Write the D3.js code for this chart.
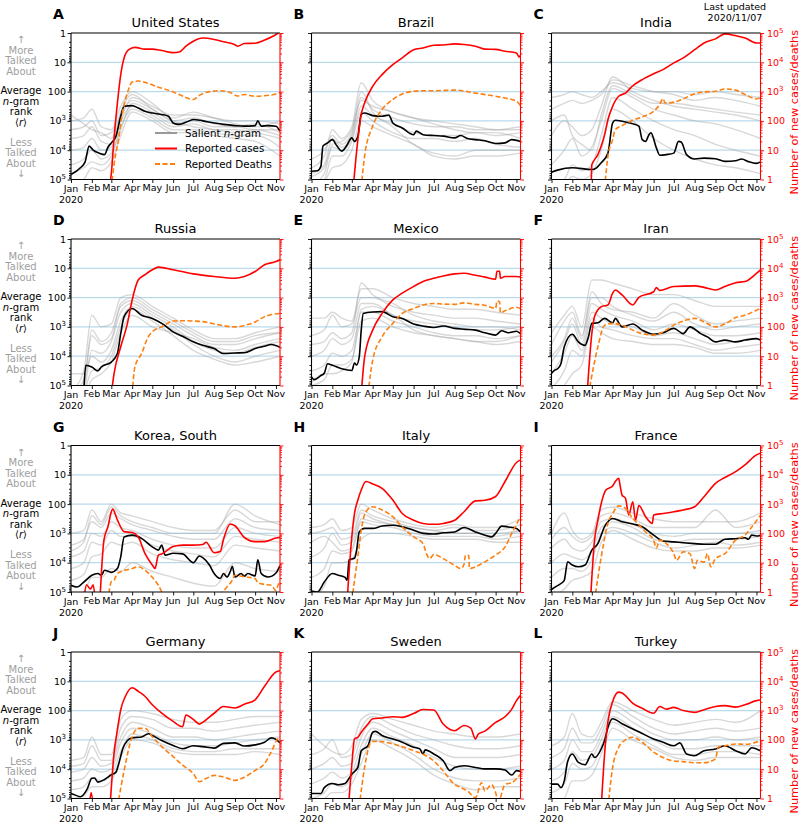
<!DOCTYPE html>
<html><head><meta charset="utf-8">
<script src="https://cdn.jsdelivr.net/npm/d3@7"></script>
<style>body{margin:0;background:#fff}svg{font-family:"DejaVu Sans",sans-serif}</style>
</head><body><svg id="chart" width="800" height="824"></svg>
<script>
// ---------------- DATA ----------------
const countries = ["United States","Brazil","India","Russia","Mexico","Iran","Korea, South","Italy","France","Germany","Sweden","Turkey"];
const panelLetters = ["A","B","C","D","E","F","G","H","I","J","K","L"];
const monthLabels = ["Jan","Feb","Mar","Apr","May","Jun","Jul","Aug","Sep","Oct","Nov"];
const tickExponents = [0,1,2,3,4,5];
const grayDates = ["1/1","1/20","2/1","2/15","3/1","3/15","4/1","5/1","6/1","7/1","8/1","9/1","10/1","11/7"];
// values are log10 exponents: rank series (left axis), counts (right axis)

const usRank = [["1/1",4.83],["1/15",4.6],["1/22",4.4],["1/28",3.86],["2/3",4.0],["2/12",4.1],["2/20",4.15],["2/25",3.9],["3/1",3.75],["3/8",3.52],["3/15",2.84],["3/20",2.5],["4/1",2.48],["4/10",2.56],["4/20",2.67],["5/1",2.73],["5/15",2.78],["5/25",2.84],["6/1",3.07],["6/10",3.12],["6/20",3.05],["7/1",2.95],["7/15",3.0],["8/1",3.07],["8/15",3.12],["9/1",3.16],["9/15",3.18],["10/1",3.16],["10/5",3.0],["10/10",3.18],["10/20",3.16],["11/1",3.18],["11/7",3.35]];
const usCases = [["2/27",-0.3],["3/1",0.2],["3/5",1.4],["3/10",2.6],["3/15",3.58],["3/20",4.15],["3/27",4.43],["4/5",4.51],["4/20",4.45],["5/1",4.45],["5/15",4.4],["6/1",4.33],["6/10",4.35],["6/20",4.55],["7/1",4.72],["7/15",4.83],["8/1",4.78],["8/15",4.7],["9/1",4.6],["9/5",4.55],["9/15",4.64],["10/1",4.65],["10/15",4.76],["11/1",4.95],["11/7",5.05]];
const usDeaths = [["3/1",-0.3],["3/5",0.5],["3/12",1.4],["3/17",2.2],["3/22",2.73],["3/27",3.1],["4/1",3.33],["4/10",3.36],["4/25",3.28],["5/10",3.15],["5/25",3.05],["6/10",2.9],["7/1",2.73],["7/10",2.87],["7/25",3.0],["8/10",3.03],["8/25",2.97],["9/5",2.85],["9/15",2.9],["10/1",2.84],["10/15",2.86],["11/1",2.92],["11/7",2.97]];
const usGray = [
 [3.0,2.9,2.6,3.2,3.3,2.5,2.0,2.4,2.9,2.7,2.9,3.0,3.0,3.1],
 [3.3,3.2,3.0,3.5,3.4,2.8,2.3,2.6,3.0,2.9,3.1,3.2,3.1,3.4],
 [4.0,3.9,3.6,4.0,3.9,3.0,2.5,2.8,3.2,3.1,3.3,3.3,3.4,3.6],
 [4.5,4.3,4.0,4.3,4.1,3.2,2.6,2.9,3.3,3.3,3.4,3.5,3.5,3.9],
 [5.2,5.0,4.6,4.7,4.4,3.5,2.7,3.0,3.4,3.4,3.5,3.6,3.7,4.2],
 [2.8,3.1,3.3,3.4,3.6,2.9,2.2,2.5,2.8,2.8,2.9,3.1,3.2,3.0],
 [4.8,4.6,4.4,4.5,4.2,3.3,2.4,2.7,3.1,3.0,3.2,3.2,3.3,3.3],
 [3.6,3.5,3.2,3.7,3.8,2.7,2.1,2.6,3.0,3.2,3.3,3.4,3.3,3.5]];

const brRank = [["1/1",4.72],["1/10",4.7],["1/15",4.55],["1/18",3.86],["1/25",3.75],["2/1",3.64],["2/8",3.86],["2/15",4.03],["2/22",3.86],["3/1",3.58],["3/5",3.7],["3/10",3.52],["3/15",2.78],["3/20",2.73],["4/1",2.82],["4/15",2.84],["4/25",2.8],["5/1",3.07],["5/15",3.24],["6/1",3.47],["6/5",3.35],["6/15",3.47],["7/1",3.5],["7/15",3.52],["8/1",3.58],["8/10",3.5],["8/20",3.6],["9/1",3.64],["9/15",3.68],["10/1",3.77],["10/15",3.75],["10/25",3.64],["11/7",3.7]];
const brCases = [["3/3",-0.3],["3/10",1.36],["3/15",2.22],["3/20",2.61],["4/1",3.18],["4/15",3.58],["5/1",3.92],["5/15",4.15],["6/1",4.43],["6/15",4.49],["7/1",4.58],["7/15",4.59],["8/1",4.63],["8/15",4.61],["9/1",4.55],["9/15",4.45],["10/1",4.44],["10/15",4.38],["11/1",4.32],["11/5",4.18],["11/7",4.25]];
const brDeaths = [["3/15",-0.3],["3/20",0.8],["4/1",1.82],["4/15",2.39],["5/1",2.73],["5/15",2.92],["6/1",3.01],["6/15",3.03],["7/1",3.03],["8/1",3.05],["9/1",2.95],["10/1",2.84],["10/15",2.78],["11/1",2.67],["11/7",2.52]];
const brGray = [
 [4.6,4.2,3.3,3.6,3.2,1.7,2.3,2.7,2.9,3.0,3.1,3.2,3.3,3.3],
 [4.8,4.5,3.6,3.9,3.5,2.2,2.6,2.9,3.1,3.2,3.2,3.3,3.3,3.2],
 [5.2,4.8,3.9,4.0,3.6,2.5,2.8,3.1,3.4,3.5,3.5,3.4,3.5,3.4],
 [4.3,4.0,3.5,3.8,3.4,2.0,2.7,3.2,3.8,4.1,4.2,4.0,4.0,4.0],
 [5.2,5.0,4.2,4.2,3.7,2.7,3.0,3.4,3.6,3.6,3.7,3.6,3.8,3.9],
 [4.9,4.6,3.8,3.7,3.3,2.3,2.5,2.7,2.9,3.1,3.3,3.4,3.4,3.6],
 [5.3,5.1,4.6,4.5,4.0,3.0,3.2,3.5,3.8,4.2,4.3,4.2,4.2,4.1]];

const inRank = [["1/1",4.75],["1/10",4.68],["2/1",4.6],["3/1",4.66],["3/8",4.6],["3/15",4.43],["3/25",4.1],["4/1",3.07],["4/5",2.98],["4/15",3.01],["5/1",3.1],["5/10",3.18],["5/15",3.64],["5/20",3.7],["5/25",3.47],["5/28",3.41],["6/5",3.92],["6/10",4.17],["6/20",4.15],["7/1",4.1],["7/8",3.7],["7/12",3.72],["7/20",4.15],["8/1",4.3],["8/15",4.27],["9/1",4.29],["9/15",4.38],["10/1",4.36],["10/10",4.3],["10/20",4.39],["11/1",4.45],["11/7",4.4]];
const inCases = [["2/29",-0.3],["3/1",0.5],["3/3",0.6],["3/10",0.85],["3/15",1.14],["3/20",1.53],["3/25",2.05],["4/1",2.5],["4/10",2.84],["4/20",2.95],["5/1",3.2],["5/15",3.41],["6/1",3.61],["6/15",3.75],["7/1",3.98],["7/15",4.15],["8/1",4.43],["8/15",4.66],["9/1",4.8],["9/15",4.97],["10/1",4.91],["10/15",4.83],["11/1",4.66],["11/7",4.66]];
const inDeaths = [["3/20",-0.3],["3/25",0.8],["4/1",1.36],["4/5",1.7],["4/15",1.84],["5/1",2.02],["5/15",2.14],["6/1",2.33],["6/10",2.56],["6/15",2.76],["6/18",2.61],["7/1",2.64],["7/15",2.75],["8/1",2.93],["8/15",2.99],["9/1",3.01],["9/15",3.09],["10/1",3.05],["10/15",2.9],["11/1",2.75],["11/7",2.8]];
const inGray = [
 [2.2,2.1,2.0,2.1,2.2,2.0,1.7,1.9,2.0,2.0,2.1,2.0,2.1,2.2],
 [2.6,2.4,2.3,2.4,2.3,2.1,1.6,1.8,2.0,2.1,2.3,2.2,2.3,2.5],
 [3.5,3.0,3.2,3.5,3.3,2.5,1.5,2.0,2.3,2.5,2.6,2.7,2.8,3.0],
 [4.5,4.0,3.6,4.2,3.9,3.0,1.9,2.2,2.6,2.8,3.0,3.1,3.3,3.6],
 [5.2,5.0,4.5,4.7,4.5,3.5,2.2,2.6,3.0,3.3,3.5,3.8,4.0,4.2],
 [3.0,2.8,3.5,3.8,4.0,2.8,1.8,2.1,2.4,2.4,2.5,2.6,2.7,2.8],
 [5.4,5.2,4.9,5.0,4.8,4.0,2.6,3.0,3.6,4.0,4.3,4.5,4.6,4.8]];

const ruRank = [["1/20",5.2],["1/23",4.31],["2/1",4.37],["2/10",4.5],["2/15",4.37],["3/1",4.2],["3/10",3.91],["3/15",3.23],["3/20",2.65],["4/1",2.37],["4/15",2.6],["5/1",2.71],["5/15",2.88],["6/1",3.17],["6/15",3.32],["7/1",3.51],["7/15",3.63],["8/1",3.74],["8/15",3.91],["9/1",3.89],["9/15",3.88],["10/1",3.74],["10/15",3.66],["10/25",3.6],["11/7",3.7]];
const ruCases = [["3/1",-0.3],["3/5",0.4],["3/15",1.32],["3/25",2.12],["4/1",2.92],["4/10",3.6],["4/20",3.78],["5/1",3.95],["5/10",4.04],["6/1",3.95],["7/1",3.81],["8/1",3.72],["9/1",3.66],["9/15",3.72],["10/1",3.89],["10/15",4.12],["11/1",4.23],["11/7",4.29]];
const ruDeaths = [["4/1",-0.3],["4/5",0.63],["4/15",1.09],["4/25",1.66],["5/1",1.83],["5/15",2.0],["6/1",2.2],["6/15",2.21],["7/1",2.2],["7/15",2.18],["8/1",2.1],["9/1",2.0],["9/15",2.05],["10/1",2.17],["10/15",2.35],["11/7",2.46]];
const ruGray = [
 [5.2,4.5,2.6,3.0,2.9,2.0,1.9,2.3,2.7,3.1,3.4,3.4,3.2,3.0],
 [5.3,5.0,3.1,3.5,3.2,2.3,2.1,2.5,2.9,3.3,3.6,3.6,3.4,3.2],
 [5.5,5.2,3.8,3.9,3.5,2.5,2.2,2.6,3.0,3.5,3.8,3.9,3.7,3.5],
 [4.6,4.6,4.0,4.2,3.8,2.8,2.3,2.7,3.1,3.6,4.0,4.2,4.0,3.8],
 [5.4,5.2,4.5,4.4,4.0,3.0,2.4,2.8,3.3,3.8,4.1,4.3,4.2,4.0],
 [5.3,4.8,3.3,3.6,3.4,2.2,2.0,2.4,2.8,3.2,3.5,3.5,3.3,3.2],
 [5.5,5.4,4.8,4.6,4.2,3.2,2.6,3.0,3.2,3.4,3.7,3.8,3.6,3.4]];

const mxRank = [["1/1",4.71],["1/5",4.8],["1/15",4.66],["1/20",4.58],["1/25",4.26],["2/1",4.31],["2/15",4.43],["3/1",4.49],["3/5",4.23],["3/8",4.3],["3/12",4.03],["3/15",3.11],["3/18",2.54],["4/1",2.49],["4/15",2.48],["5/1",2.65],["5/15",2.71],["6/1",2.9],["6/15",2.97],["7/1",3.02],["7/15",2.97],["8/1",3.05],["8/15",3.08],["9/1",3.11],["9/15",3.2],["10/1",3.28],["10/10",3.13],["10/20",3.2],["11/1",3.15],["11/7",3.23]];
const mxCases = [["3/15",-0.3],["3/20",0.97],["4/1",1.89],["4/15",2.46],["5/1",2.92],["5/15",3.15],["6/1",3.38],["6/15",3.55],["7/1",3.66],["7/15",3.74],["8/1",3.81],["8/15",3.83],["9/1",3.76],["9/15",3.7],["10/1",3.63],["10/3",3.9],["10/7",3.9],["10/8",3.66],["10/15",3.72],["11/1",3.72],["11/7",3.7]];
const mxDeaths = [["3/25",-0.3],["4/1",0.86],["4/15",1.66],["5/1",2.12],["5/15",2.46],["6/1",2.63],["6/15",2.75],["7/1",2.8],["7/15",2.78],["8/1",2.77],["8/15",2.82],["9/1",2.77],["9/15",2.74],["10/1",2.63],["10/3",2.88],["10/7",2.86],["10/8",2.48],["10/15",2.55],["11/1",2.67],["11/7",2.62]];
const mxGray = [
 [2.7,2.7,2.5,2.7,2.8,1.7,1.7,2.0,2.2,2.3,2.4,2.4,2.5,2.6],
 [3.3,3.1,2.6,3.0,2.9,2.0,2.0,2.3,2.5,2.6,2.7,2.7,2.8,2.9],
 [4.0,3.8,3.4,3.6,3.4,2.2,2.2,2.6,2.8,2.9,3.0,3.1,3.1,3.0],
 [4.5,4.3,3.9,4.0,3.8,2.5,2.5,2.8,3.0,3.2,3.3,3.3,3.4,3.3],
 [5.0,4.8,4.3,4.3,4.1,2.8,2.7,3.0,3.2,3.3,3.4,3.5,3.6,3.5],
 [4.9,4.6,4.6,4.5,4.2,2.4,2.3,2.6,3.1,3.3,3.4,3.5,3.5,3.3],
 [3.6,3.5,3.2,3.4,3.2,1.5,1.9,2.2,2.6,2.8,2.9,3.0,3.0,3.1]];

const irRank = [["1/1",4.58],["1/5",4.49],["1/10",4.43],["1/15",4.26],["1/20",3.68],["2/1",3.25],["2/10",3.51],["2/20",3.63],["2/25",3.34],["3/1",2.88],["3/10",2.86],["3/20",2.71],["4/1",2.86],["4/5",2.71],["4/15",3.0],["5/1",2.9],["5/15",3.11],["6/1",3.25],["6/15",3.2],["7/1",3.05],["7/15",3.23],["7/25",3.0],["8/10",3.23],["8/20",3.34],["9/1",3.51],["9/15",3.45],["10/1",3.51],["10/15",3.45],["11/1",3.4],["11/7",3.45]];
const irCases = [["2/23",-0.3],["3/1",1.77],["3/5",2.35],["3/15",2.69],["3/25",2.75],["4/1",3.15],["4/5",3.26],["4/15",3.09],["5/1",2.75],["5/10",3.01],["6/1",3.2],["6/5",3.34],["6/10",3.24],["7/1",3.38],["8/1",3.4],["8/15",3.35],["9/1",3.26],["9/15",3.38],["10/1",3.51],["10/15",3.55],["11/1",3.83],["11/7",3.95]];
const irDeaths = [["2/25",-0.3],["3/10",1.32],["3/20",2.06],["4/1",2.12],["4/15",2.06],["5/1",1.89],["5/15",1.77],["6/1",1.72],["6/15",1.83],["7/1",2.06],["7/15",2.2],["8/1",2.29],["8/15",2.17],["9/1",2.0],["9/15",2.1],["10/1",2.32],["10/15",2.4],["11/1",2.57],["11/7",2.63]];
const irGray = [
 [3.2,2.6,2.3,3.0,1.4,1.4,1.5,1.7,1.9,1.9,2.1,2.3,2.3,2.3],
 [3.6,2.8,2.5,3.3,2.0,2.0,2.3,2.6,2.8,2.5,2.9,3.1,3.0,2.9],
 [4.2,3.5,2.9,3.6,2.2,2.4,2.6,2.8,3.1,2.9,3.1,3.3,3.3,3.2],
 [4.6,3.9,3.3,3.8,2.5,2.7,2.9,3.0,3.3,3.2,3.4,3.6,3.5,3.4],
 [5.1,4.5,3.8,4.0,2.7,3.0,3.1,3.3,3.4,3.4,3.6,3.8,3.7,3.6],
 [4.0,3.4,2.7,3.4,1.8,2.2,2.4,2.5,2.7,2.2,2.6,2.9,2.8,2.7],
 [5.3,5.0,4.6,4.3,3.0,3.2,3.4,3.5,3.6,3.6,3.7,3.9,3.9,3.8]];

const krRank = [["1/1",4.77],["1/10",4.83],["1/20",4.66],["2/1",4.43],["2/10",4.37],["2/15",4.43],["2/20",4.26],["3/1",4.33],["3/10",4.2],["3/15",3.8],["3/20",3.12],["4/1",3.06],["4/15",3.17],["5/1",3.46],["5/10",3.57],["5/15",3.4],["5/20",3.74],["6/1",3.68],["6/15",3.7],["7/1",4.0],["7/10",3.77],["7/15",3.83],["7/25",4.08],["8/1",4.37],["8/10",4.54],["8/15",4.37],["8/20",4.49],["8/25",4.3],["8/28",4.12],["9/1",4.49],["9/10",4.37],["9/15",4.46],["9/20",4.37],["10/1",4.45],["10/5",3.9],["10/10",4.37],["10/20",4.49],["11/1",4.35],["11/7",4.1]];
const krCases = [["1/20",-0.3],["1/24",0.25],["1/30",0.1],["2/3",0.25],["2/6",-0.3],["2/12",null],["2/13",-0.3],["2/19",1.77],["2/25",2.23],["3/1",2.74],["3/3",2.83],["3/10",2.46],["3/20",2.06],["4/1",2.03],["4/10",1.88],["4/20",1.32],["5/1",0.92],["5/5",0.8],["5/10",1.26],["5/15",1.3],["6/1",1.55],["6/15",1.6],["7/1",1.6],["7/15",1.62],["7/20",1.7],["8/1",1.34],["8/10",1.38],["8/15",1.8],["8/25",2.32],["9/1",2.26],["9/15",1.86],["10/1",1.72],["10/15",1.72],["11/1",1.84],["11/7",1.86]];
const krDeaths = [["2/25",-0.3],["3/1",0.35],["3/5",0.4],["3/10",0.63],["3/15",0.69],["4/1",0.8],["4/10",0.86],["4/20",0.75],["5/1",0.5],["5/10",0.23],["5/15",0.0],["5/20",-0.3],["7/25",null],["8/1",-0.3],["8/20",0.17],["8/28",0.4],["9/1",0.57],["9/15",0.52],["10/1",0.46],["10/5",0.32],["10/15",0.26],["10/25",0.23],["11/1",0.05],["11/5",0.28],["11/7",0.3]];
const krGray = [
 [3.0,2.9,2.2,2.6,2.0,2.3,2.4,2.6,2.8,2.9,2.9,2.2,2.6,2.6],
 [3.4,3.2,2.6,2.8,2.3,2.5,2.7,2.9,3.1,3.2,3.2,2.5,2.8,2.9],
 [3.8,3.6,3.0,3.1,2.6,2.8,2.9,3.2,3.4,3.5,3.5,2.8,3.0,3.1],
 [4.2,4.0,3.3,3.4,2.9,3.1,3.1,3.4,3.6,3.7,3.8,3.1,3.2,3.3],
 [4.6,4.4,3.8,3.7,3.3,3.4,3.3,3.7,3.9,4.0,4.1,3.4,3.5,3.6],
 [5.2,5.0,4.5,4.5,4.2,4.3,4.0,4.3,4.5,4.7,4.8,4.0,4.2,4.3],
 [3.6,3.3,2.4,2.7,2.1,2.4,2.6,2.8,3.0,3.0,3.0,2.0,2.4,2.7]];

const itRank = [["1/1",4.97],["1/10",5.0],["1/20",4.66],["2/1",4.37],["2/10",4.43],["2/20",4.5],["2/23",4.6],["2/26",3.9],["3/5",3.85],["3/8",3.6],["3/12",2.95],["3/20",2.83],["4/1",2.83],["4/15",2.75],["5/1",2.72],["5/15",2.77],["6/1",2.89],["6/15",3.0],["7/1",3.02],["7/15",2.98],["8/1",2.95],["8/15",2.8],["9/1",2.95],["9/15",3.06],["9/25",3.12],["10/1",3.0],["10/10",2.75],["10/20",2.78],["11/1",2.83],["11/7",2.95]];
const itCases = [["2/23",-0.3],["3/1",1.88],["3/5",2.68],["3/10",3.14],["3/15",3.48],["3/22",3.77],["4/1",3.69],["4/15",3.54],["5/1",3.14],["5/15",2.68],["6/1",2.45],["6/15",2.34],["7/1",2.31],["7/15",2.34],["8/1",2.45],["8/15",2.74],["9/1",3.11],["9/15",3.13],["10/1",3.26],["10/15",3.77],["11/1",4.42],["11/7",4.51]];
const itDeaths = [["3/1",-0.3],["3/5",0.4],["3/10",1.2],["3/15",2.11],["3/22",2.74],["4/1",2.91],["4/15",2.8],["5/1",2.57],["5/15",2.22],["6/1",1.88],["6/15",1.65],["6/20",1.31],["6/25",1.14],["7/1",1.28],["7/15",1.14],["8/1",0.91],["8/10",0.8],["8/15",0.95],["8/17",1.25],["8/22",1.25],["8/23",0.8],["9/1",0.86],["9/15",1.03],["10/1",1.26],["10/15",1.54],["10/25",2.0],["11/7",2.57]];
const itGray = [
 [2.8,2.7,2.5,2.9,2.8,2.0,2.2,2.5,2.7,2.8,2.7,2.8,2.8,2.5],
 [3.0,2.9,2.8,3.2,3.1,2.2,2.4,2.6,2.8,2.9,2.8,2.9,2.9,2.7],
 [3.8,3.5,3.0,3.4,3.3,2.3,2.5,2.7,2.9,3.0,3.0,3.0,3.1,2.9],
 [4.5,4.2,3.6,3.7,3.6,2.6,2.7,2.8,3.0,3.1,3.1,3.1,3.2,3.1],
 [5.2,4.8,4.0,4.0,3.9,3.2,3.0,3.0,3.1,3.2,3.2,3.2,3.3,3.3],
 [3.3,3.1,3.3,3.6,3.5,2.5,2.6,2.7,2.8,2.9,3.0,3.0,3.0,2.9]];

const frRank = [["1/1",4.92],["1/5",4.85],["1/15",4.71],["1/20",4.6],["1/25",3.97],["2/1",4.08],["2/10",4.14],["2/20",4.08],["3/1",3.57],["3/10",3.35],["3/20",2.77],["4/1",2.49],["4/15",2.6],["5/1",2.68],["5/15",2.77],["6/1",3.06],["6/15",3.26],["7/1",3.29],["7/15",3.32],["8/1",3.35],["8/15",3.37],["9/1",3.37],["9/15",3.2],["10/1",3.18],["10/15",3.15],["10/20",3.2],["10/25",3.06],["11/1",3.09],["11/7",3.06]];
const frCases = [["2/28",-0.3],["3/5",1.76],["3/10",2.45],["3/15",3.02],["3/22",3.48],["4/1",3.62],["4/5",3.77],["4/10",3.88],["4/12",3.65],["4/15",3.31],["4/20",3.2],["4/25",2.63],["5/1",3.08],["5/5",2.45],["5/10",2.95],["5/20",2.57],["5/30",2.34],["6/1",2.63],["6/15",2.68],["7/1",2.74],["7/15",2.8],["8/1",2.91],["8/15",3.25],["9/1",3.71],["9/15",3.91],["10/1",4.11],["10/15",4.34],["11/1",4.68],["11/7",4.74]];
const frDeaths = [["3/5",-0.3],["3/15",1.2],["3/25",2.34],["4/1",2.68],["4/10",2.94],["4/20",2.85],["5/1",2.51],["5/10",2.3],["5/20",2.05],["6/1",1.77],["6/5",1.5],["6/10",1.77],["6/20",1.65],["7/1",1.31],["7/5",1.08],["7/15",1.37],["7/25",1.31],["8/1",0.8],["8/5",1.08],["8/15",1.02],["8/20",1.31],["8/25",0.86],["9/1",1.14],["9/10",1.25],["9/15",1.31],["10/1",1.77],["10/15",1.94],["10/25",2.22],["11/7",2.62]];
const frGray = [
 [3.0,2.3,2.9,3.2,3.0,2.2,2.1,2.3,2.5,2.6,2.6,2.6,2.6,2.3],
 [3.2,2.8,3.1,3.3,3.1,2.4,2.3,2.5,2.8,2.8,2.8,2.2,2.8,2.6],
 [3.5,3.2,3.5,3.6,3.3,2.6,2.5,2.7,3.0,3.1,3.0,3.0,3.0,2.9],
 [4.0,3.7,3.8,3.9,3.6,2.8,2.6,2.8,3.2,3.3,3.2,3.2,3.2,3.1],
 [4.5,4.2,4.2,4.3,3.9,3.0,2.8,3.0,3.3,3.5,3.4,3.3,3.4,3.3],
 [5.2,4.9,4.6,4.5,4.3,3.3,2.9,3.2,3.5,3.6,3.6,3.5,3.5,3.4]];

const deRank = [["1/1",4.83],["1/5",4.86],["1/15",4.94],["1/25",4.68],["2/1",4.31],["2/5",4.3],["2/10",4.44],["2/20",4.35],["3/1",4.19],["3/8",4.1],["3/12",3.82],["3/18",3.3],["3/25",3.02],["4/1",2.93],["4/15",2.9],["4/25",2.79],["5/1",2.85],["5/15",3.02],["6/1",3.19],["6/15",3.3],["7/1",3.2],["7/15",3.23],["8/1",3.28],["8/15",3.12],["9/1",3.1],["9/15",3.21],["10/1",3.17],["10/15",3.08],["10/25",2.93],["11/1",2.98],["11/7",3.1]];
const deCases = [["1/28",-0.3],["1/31",0.2],["2/3",-0.3],["2/27",null],["2/28",-0.3],["3/5",1.53],["3/10",2.34],["3/15",3.03],["3/22",3.49],["4/1",3.78],["4/10",3.66],["4/20",3.49],["5/1",3.2],["5/15",2.91],["6/1",2.63],["6/15",2.45],["6/20",2.85],["7/1",2.7],["7/10",2.54],["7/15",2.6],["8/1",2.91],["8/15",3.14],["9/1",3.09],["9/15",3.22],["10/1",3.37],["10/15",3.83],["11/1",4.32],["11/7",4.36]];
const deDeaths = [["3/10",-0.3],["3/20",0.95],["4/1",2.11],["4/10",2.4],["4/20",2.4],["5/1",2.11],["5/15",1.77],["6/1",1.43],["6/15",1.14],["7/1",0.85],["7/10",0.57],["7/20",0.68],["8/1",0.79],["8/15",0.73],["9/1",0.62],["9/15",0.73],["10/1",0.96],["10/15",1.19],["10/25",1.59],["11/5",2.05],["11/7",2.0]];
const deGray = [
 [3.7,3.6,2.9,3.5,3.5,2.3,2.0,2.1,2.3,2.4,2.4,2.3,2.2,2.2],
 [3.9,3.8,3.2,3.7,3.7,2.6,2.2,2.3,2.6,2.6,2.7,2.6,2.5,2.4],
 [4.1,4.0,3.6,3.9,3.8,2.9,2.4,2.6,2.9,2.9,3.0,2.9,2.8,2.7],
 [4.4,4.3,4.0,4.1,4.0,3.1,2.6,2.8,3.1,3.2,3.2,3.1,3.0,2.9],
 [4.7,4.6,4.3,4.4,4.2,3.4,2.8,3.0,3.3,3.4,3.4,3.3,3.3,3.3],
 [5.0,4.9,4.6,4.6,4.4,3.6,3.0,3.1,3.4,3.5,3.5,3.5,3.4,3.5]];

const seRank = [["1/1",4.83],["1/15",4.83],["1/20",4.63],["2/1",4.49],["2/10",4.53],["2/20",4.49],["2/25",4.34],["3/1",4.17],["3/10",3.94],["3/15",3.37],["3/25",3.2],["4/1",2.74],["4/5",2.71],["4/15",2.85],["5/1",2.97],["5/15",3.08],["6/1",3.25],["6/10",3.3],["6/15",3.48],["6/18",3.34],["7/1",3.48],["7/15",3.71],["7/25",4.05],["8/1",3.94],["8/15",3.88],["9/1",3.94],["9/15",3.99],["10/1",3.99],["10/15",4.03],["10/25",4.2],["11/1",4.05],["11/7",4.07]];
const seCases = [["2/25",-0.3],["3/1",1.16],["3/5",2.03],["3/10",2.09],["3/15",2.26],["3/25",2.54],["4/1",2.72],["4/15",2.75],["5/1",2.79],["5/15",2.77],["6/1",2.9],["6/15",3.04],["7/1",3.02],["7/15",2.54],["8/1",2.31],["8/15",2.49],["8/25",2.4],["9/1",2.03],["9/5",2.2],["9/15",2.3],["10/1",2.6],["10/15",2.79],["10/25",3.05],["11/1",3.34],["11/7",3.52]];
const seDeaths = [["3/12",-0.3],["3/20",1.06],["3/28",1.86],["4/1",1.95],["4/15",1.94],["5/1",1.86],["5/15",1.77],["6/1",1.63],["6/15",1.51],["7/1",1.28],["7/15",0.94],["8/1",0.48],["8/10",0.37],["8/20",0.26],["9/1",0.03],["9/10",0.54],["9/15",0.26],["9/25",0.48],["10/1",0.2],["10/5",-0.1],["10/15",0.48],["10/25",0.54],["11/7",0.83]];
const seGray = [
 [2.8,3.2,3.4,3.5,3.2,2.3,2.1,2.3,2.5,2.7,2.8,2.9,2.9,2.8],
 [3.5,3.3,3.0,3.6,3.5,2.6,2.2,2.5,2.8,3.0,3.2,3.3,3.3,3.2],
 [4.0,3.8,3.6,3.9,3.8,2.9,2.4,2.7,3.0,3.3,3.6,3.6,3.6,3.5],
 [4.5,4.3,4.1,4.3,4.1,3.2,2.6,2.9,3.2,3.6,3.9,4.0,4.0,3.9],
 [5.0,4.8,4.5,4.6,4.3,3.5,2.8,3.1,3.5,4.0,4.3,4.4,4.4,4.3],
 [5.2,5.0,4.8,4.8,4.5,3.8,3.0,3.3,3.7,4.2,4.5,4.7,4.6,4.6]];

const trRank = [["1/1",4.51],["1/10",4.51],["1/15",4.63],["1/20",4.4],["1/25",3.74],["2/1",3.48],["2/10",3.77],["2/20",3.85],["3/1",3.48],["3/5",3.6],["3/15",3.31],["3/20",3.02],["3/25",2.57],["4/1",2.28],["4/15",2.45],["5/1",2.63],["5/15",2.78],["6/1",2.97],["6/15",3.08],["7/1",3.2],["7/10",3.1],["7/20",3.48],["8/1",3.54],["8/15",3.37],["9/1",3.31],["9/15",3.2],["10/1",3.37],["10/15",3.48],["10/25",3.27],["11/1",3.31],["11/7",3.37]];
const trCases = [["3/15",-0.3],["3/20",1.52],["3/25",2.63],["4/1",3.31],["4/10",3.63],["4/15",3.6],["5/1",3.25],["5/15",3.08],["6/1",2.91],["6/10",3.14],["6/20",3.05],["7/1",3.11],["7/15",3.0],["8/1",2.94],["8/15",3.03],["9/1",3.14],["9/15",3.17],["10/1",3.12],["10/15",3.2],["11/1",3.34],["11/7",3.36]];
const trDeaths = [["3/25",-0.3],["4/1",1.06],["4/10",1.75],["4/20",2.0],["5/1",2.09],["5/15",1.92],["6/1",1.58],["6/15",1.4],["7/1",1.28],["7/15",1.26],["8/1",1.22],["8/15",1.22],["9/1",1.35],["9/5",1.75],["9/15",1.8],["10/1",1.86],["10/15",1.85],["11/7",1.97]];
const trGray = [
 [3.2,2.9,2.1,2.8,2.9,2.4,1.7,2.0,2.3,2.5,2.4,2.3,2.4,2.0],
 [3.6,3.3,2.6,3.1,3.1,2.6,1.8,2.2,2.6,2.8,2.7,2.6,2.7,2.6],
 [4.0,3.7,3.0,3.4,3.4,2.8,2.0,2.4,2.8,3.0,3.0,2.9,3.0,2.9],
 [4.4,4.1,3.4,3.7,3.6,3.0,2.2,2.6,3.0,3.3,3.3,3.2,3.2,3.2],
 [4.8,4.5,3.8,4.0,3.9,3.2,2.4,2.8,3.2,3.5,3.5,3.4,3.4,3.5],
 [5.2,5.0,4.4,4.4,4.2,3.5,2.6,3.0,3.3,3.6,3.7,3.6,3.6,3.6]];

// ---------------- TABLE ----------------
const panels = [
 {rank:usRank,cases:usCases,deaths:usDeaths,gray:usGray},
 {rank:brRank,cases:brCases,deaths:brDeaths,gray:brGray},
 {rank:inRank,cases:inCases,deaths:inDeaths,gray:inGray},
 {rank:ruRank,cases:ruCases,deaths:ruDeaths,gray:ruGray},
 {rank:mxRank,cases:mxCases,deaths:mxDeaths,gray:mxGray},
 {rank:irRank,cases:irCases,deaths:irDeaths,gray:irGray},
 {rank:krRank,cases:krCases,deaths:krDeaths,gray:krGray},
 {rank:itRank,cases:itCases,deaths:itDeaths,gray:itGray},
 {rank:frRank,cases:frCases,deaths:frDeaths,gray:frGray},
 {rank:deRank,cases:deCases,deaths:deDeaths,gray:deGray},
 {rank:seRank,cases:seCases,deaths:seDeaths,gray:seGray},
 {rank:trRank,cases:trCases,deaths:trDeaths,gray:trGray}
].map((p,i)=>Object.assign(p,{name:countries[i],letter:panelLetters[i]}));

// ---------------- LAYOUT ----------------
const colLeft = [71, 311.5, 551.5], W = 209;
const rowTop = [33, 239, 445.5, 652], H = 146.5;
const RED = "#ff0000", ORANGE = "#ff7f0e", GRID = "#b9d9ec";
const FS = 9.5;

const svg = d3.select("#chart");
const parse = d3.timeParse("%m/%d/%Y");
const toDate = s => parse(s + "/2020");
const pow = e => Math.pow(10, e);
const xDomain = [new Date(2020,0,1), new Date(2020,10,7)];
const monthTicks = monthLabels.map((m,i)=>new Date(2020,i,1));
const majors = tickExponents.map(pow);
const minors = [];
for (let k=0;k<5;k++) for (let m=2;m<10;m++) minors.push(m*pow(k));

function expLabel(sel, e){
  if (e <= 2) sel.text(String(pow(e)));
  else { sel.append("tspan").text("10"); sel.append("tspan").attr("dy",-4).attr("font-size",7).text(String(e)); }
}

panels.forEach((p,i)=>{
  const col = i%3, row = Math.floor(i/3);
  const L = colLeft[col], T = rowTop[row];
  const g = svg.append("g").attr("transform",`translate(${L},${T})`);
  const x = d3.scaleTime().domain(xDomain).range([0,W]);
  const yR = d3.scaleLog().domain([1,1e5]).range([0,H]);
  const yC = d3.scaleLog().domain([1,1e5]).range([H,0]);

  const cid = "clip"+i;
  g.append("clipPath").attr("id",cid).append("rect").attr("width",W).attr("height",H);

  // grid
  g.selectAll(".grid").data(majors.slice(1,5)).enter().append("line")
    .attr("x1",0).attr("x2",W).attr("y1",d=>yR(d)).attr("y2",d=>yR(d))
    .attr("stroke",GRID).attr("stroke-width",1.3);

  const plot = g.append("g").attr("clip-path",`url(#${cid})`);
  const rankLine = d3.line().defined(d=>d[1]!=null).x(d=>x(toDate(d[0]))).y(d=>yR(pow(d[1]))).curve(d3.curveMonotoneX);
  const countLine = d3.line().defined(d=>d[1]!=null).x(d=>x(toDate(d[0]))).y(d=>yC(pow(d[1]))).curve(d3.curveMonotoneX);

  p.gray.forEach(vals=>{
    const pts = vals.map((v,j)=>[grayDates[j],v]);
    plot.append("path").attr("d",rankLine(pts)).attr("fill","none")
      .attr("stroke","#a9a9a9").attr("stroke-opacity",0.45).attr("stroke-width",1.4);
  });
  plot.append("path").attr("d",rankLine(p.rank)).attr("fill","none").attr("stroke","#000").attr("stroke-width",1.6);
  plot.append("path").attr("d",countLine(p.cases)).attr("fill","none").attr("stroke",RED).attr("stroke-width",1.6);
  plot.append("path").attr("d",countLine(p.deaths)).attr("fill","none").attr("stroke",ORANGE).attr("stroke-width",1.6).attr("stroke-dasharray","5,2.5");

  // axes ticks
  const styleAxis = (sel,color)=>{ sel.select(".domain").remove(); sel.selectAll("line").attr("stroke",color).attr("stroke-width",0.9); };
  g.append("g").call(d3.axisLeft(yR).tickValues(minors).tickSize(2).tickFormat("")).call(s=>styleAxis(s,"#000"));
  g.append("g").call(d3.axisLeft(yR).tickValues(majors).tickSize(3.5).tickFormat("")).call(s=>styleAxis(s,"#000"));
  g.append("g").attr("transform",`translate(${W},0)`).call(d3.axisRight(yC).tickValues(minors).tickSize(2).tickFormat("")).call(s=>styleAxis(s,RED));
  g.append("g").attr("transform",`translate(${W},0)`).call(d3.axisRight(yC).tickValues(majors).tickSize(3.5).tickFormat("")).call(s=>styleAxis(s,RED));
  const xa = g.append("g").attr("transform",`translate(0,${H})`).call(d3.axisBottom(x).tickValues(monthTicks).tickSize(3.5).tickFormat(""));
  styleAxis(xa,"#000");

  // month labels
  monthTicks.forEach((d,j)=>{
    const t = g.append("text").attr("x",x(d)).attr("y",H+(j===0?12.5:11.5)).attr("text-anchor","middle").attr("font-size",FS).text(monthLabels[j]);
    if (j===0) g.append("text").attr("x",x(d)).attr("y",H+23.5).attr("text-anchor","middle").attr("font-size",FS).text("2020");
  });

  // spines
  g.append("line").attr("x1",0).attr("x2",W).attr("y1",0).attr("y2",0).attr("stroke","#000").attr("stroke-width",1.1);
  g.append("line").attr("x1",0).attr("x2",W).attr("y1",H).attr("y2",H).attr("stroke","#000").attr("stroke-width",1.1);
  g.append("line").attr("x1",0).attr("x2",0).attr("y1",0).attr("y2",H).attr("stroke","#000").attr("stroke-width",1.1);
  g.append("line").attr("x1",W).attr("x2",W).attr("y1",0).attr("y2",H).attr("stroke",RED).attr("stroke-width",1.1);

  // y labels
  if (col===0){
    tickExponents.forEach(e=>{
      const t = g.append("text").attr("x",-5).attr("y",yR(pow(e))+3.5).attr("text-anchor","end").attr("font-size",FS);
      expLabel(t,e);
    });
    const ann = [["↑",10,"#a0a0a0"],["More",20.5,"#a0a0a0"],["Talked",31,"#a0a0a0"],["About",41.5,"#a0a0a0"],
      ["Average",61,"#000"],["n-gram",71.5,"#000"],["rank",82,"#000"],["⟨r⟩",92.5,"#000"],
      ["Less",112.5,"#a0a0a0"],["Talked",123,"#a0a0a0"],["About",133.5,"#a0a0a0"],["↓",144,"#a0a0a0"]];
    ann.forEach(([s,dy,c])=>{
      const t = svg.append("text").attr("x",21).attr("y",T+dy).attr("text-anchor","middle").attr("font-size",10).attr("fill",c);
      if (s==="n-gram"){ t.append("tspan").attr("font-style","italic").text("n"); t.append("tspan").text("-gram"); }
      else if (s==="⟨r⟩"){ t.append("tspan").text("⟨"); t.append("tspan").attr("font-style","italic").text("r"); t.append("tspan").text("⟩"); }
      else t.text(s);
    });
  }
  if (col===2){
    tickExponents.forEach(e=>{
      const t = g.append("text").attr("x",W+6.5).attr("y",yC(pow(e))+3.5).attr("text-anchor","start").attr("font-size",FS).attr("fill",RED);
      expLabel(t,e);
    });
    svg.append("text").attr("transform",`translate(${L+W+37},${T+H/2+6}) rotate(-90)`)
      .attr("text-anchor","middle").attr("font-size",11.3).attr("fill",RED).text("Number of new cases/deaths");
  }

  // title & letter
  svg.append("text").attr("x",L+W/2).attr("y",T-6).attr("text-anchor","middle").attr("font-size",13).text(p.name);
  svg.append("text").attr("x",L-18).attr("y",T-14).attr("font-size",14).attr("font-weight","bold").text(p.letter);

  // legend in first panel
  if (i===0){
    const items = [["Salient ","n","-gram","#999",null],["Reported cases","","",RED,null],["Reported Deaths","","",ORANGE,"5,2.5"]];
    items.forEach((it,k)=>{
      const yy = 100 + k*15.5;
      g.append("line").attr("x1",84).attr("x2",106).attr("y1",yy).attr("y2",yy).attr("stroke",it[3]).attr("stroke-width",2)
        .attr("stroke-dasharray",it[4]);
      const t = g.append("text").attr("x",114).attr("y",yy+3.8).attr("font-size",10.3);
      t.append("tspan").text(it[0]);
      if (it[1]){ t.append("tspan").attr("font-style","italic").text(it[1]); t.append("tspan").text(it[2]); }
    });
  }
});

svg.append("text").attr("x",735).attr("y",10).attr("text-anchor","middle").attr("font-size",FS).text("Last updated");
svg.append("text").attr("x",735).attr("y",21).attr("text-anchor","middle").attr("font-size",FS).text("2020/11/07");
</script></body></html>
